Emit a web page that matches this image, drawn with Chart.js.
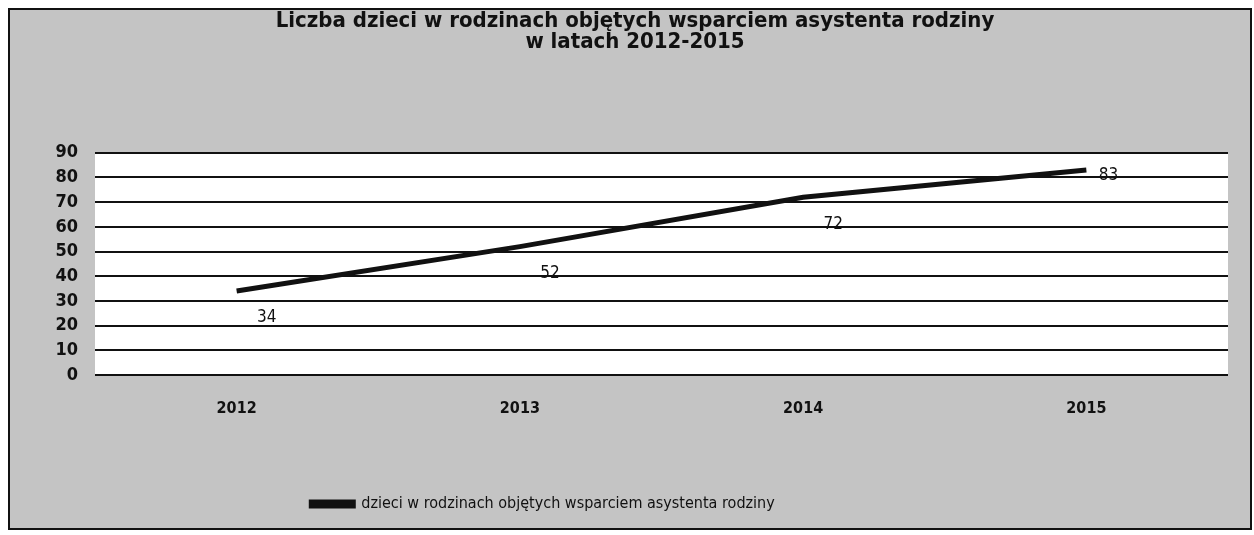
<!DOCTYPE html>
<html>
<head>
<meta charset="utf-8">
<script src="https://cdn.jsdelivr.net/npm/chart.js@4"></script>
<style>
    body { margin: 0; background: #ffffff; }
    .frame {
        position: absolute; left: 8px; top: 8px;
        width: 1240px; height: 518px;
        border: 2px solid #111;
        background: #c4c4c4;
    }
    canvas { display: block; }
</style>
</head>
<body>
<div class="frame"><canvas id="chart" width="1240" height="518"></canvas></div>
<script>
// Data
const years = ['2012', '2013', '2014', '2015'];
const children = [34, 52, 72, 83];
const seriesName = 'dzieci w rodzinach objętych wsparciem asystenta rodziny';
const titleLines = ['Liczba dzieci w rodzinach objętych wsparciem asystenta rodziny', 'w latach 2012-2015'];

const FONT = '"DejaVu Sans Condensed", "DejaVu Sans", sans-serif';

// white plot area
const plotBg = {
    id: 'plotBg',
    beforeDraw(chart) {
        const { ctx, chartArea: a } = chart;
        ctx.save();
        ctx.fillStyle = '#ffffff';
        ctx.fillRect(a.left, a.top, a.right - a.left, a.bottom - a.top);
        ctx.restore();
    }
};

// title and legend are not quite centred in the original
const boxShift = {
    id: 'boxShift',
    afterLayout(chart) {
        if (chart.legend) {
            chart.legend.left -= 76;
            chart.legend.right -= 76;
        }
        if (chart.titleBlock) {
            chart.titleBlock.left += 16;
            chart.titleBlock.right += 16;
        }
    }
};

// value labels, Excel style
const labelPos = ['below', 'below', 'below', 'right'];
const valueLabels = {
    id: 'valueLabels',
    afterDatasetsDraw(chart) {
        const { ctx } = chart;
        const meta = chart.getDatasetMeta(0);
        ctx.save();
        ctx.font = '17px ' + FONT;
        ctx.fillStyle = '#111';
        ctx.textAlign = 'center';
        ctx.textBaseline = 'middle';
        meta.data.forEach((pt, i) => {
            const v = chart.data.datasets[0].data[i];
            if (labelPos[i] === 'right') ctx.fillText(v, pt.x + 22, pt.y + 5);
            else ctx.fillText(v, pt.x + 30, pt.y + 27);
        });
        ctx.restore();
    }
};

new Chart(document.getElementById('chart'), {
    type: 'line',
    data: {
        labels: years,
        datasets: [{
            label: seriesName,
            data: children,
            borderColor: '#111',
            backgroundColor: '#111',
            borderWidth: 5,
            pointRadius: 0,
            tension: 0,
            fill: false
        }]
    },
    options: {
        responsive: false,
        animation: false,
        layout: { padding: { left: 0, right: 22, top: 0, bottom: 6 } },
        plugins: {
            title: {
                display: true,
                text: titleLines,
                color: '#111',
                font: { family: FONT, size: 22, weight: 'bold', lineHeight: 0.95 },
                padding: { top: 1, bottom: 100 }
            },
            legend: {
                display: true,
                position: 'bottom',
                labels: {
                    boxWidth: 42,
                    boxHeight: 4,
                    padding: 4,
                    color: '#111',
                    font: { family: FONT, size: 16 }
                }
            },
            tooltip: { enabled: false }
        },
        scales: {
            y: {
                min: 0,
                max: 90,
                ticks: {
                    stepSize: 10,
                    color: '#111',
                    padding: 17,
                    font: { family: FONT, size: 18, weight: 'bold' }
                },
                grid: { color: '#111', lineWidth: 2, drawTicks: false },
                border: { display: false },
                afterFit(s) { s.width = 85; }
            },
            x: {
                offset: true,
                ticks: {
                    color: '#111',
                    padding: 16,
                    font: { family: FONT, size: 16, weight: 'bold' }
                },
                grid: { display: false },
                border: { display: false },
                afterFit(s) { s.height = 117; }
            }
        }
    },
    plugins: [plotBg, boxShift, valueLabels]
});
</script>
</body>
</html>
